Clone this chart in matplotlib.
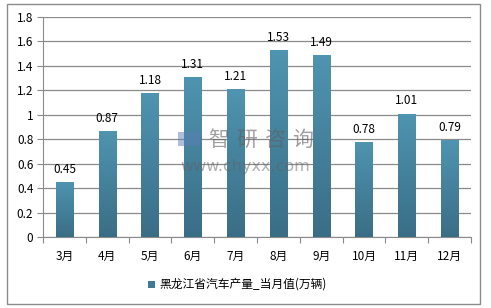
import numpy as np
import matplotlib.pyplot as plt
from matplotlib.patches import Rectangle
from matplotlib.colors import LinearSegmentedColormap

plt.rcParams['font.family'] = ['Noto Sans CJK SC', 'DejaVu Sans']

months = ['3月', '4月', '5月', '6月', '7月', '8月', '9月', '10月', '11月', '12月']
values = [0.45, 0.87, 1.18, 1.31, 1.21, 1.53, 1.49, 0.78, 1.01, 0.79]
series_name = '黑龙江省汽车产量_当月值(万辆)'

W, H = 491, 308
fig = plt.figure(figsize=(W / 100, H / 100), dpi=100)
ax = fig.add_axes([43 / W, 1 - 237 / H, 428 / W, 220 / H])

# outer frame
fig.patches.append(Rectangle((7 / W, 4 / H), 473 / W, 300 / H, transform=fig.transFigure,
                             fill=False, edgecolor='#8c8c8c', lw=1.0))

x = np.arange(len(months))
bars = ax.bar(x, values, width=0.4, color='#4a88a3', zorder=3)

# vertical gradient on each bar
cmap = LinearSegmentedColormap.from_list('bar', ['#3a6e86', '#4f94b0'])
grad = np.linspace(0, 1, 100).reshape(-1, 1)
for b in bars:
    x0, y0, w, h = b.get_x(), b.get_y(), b.get_width(), b.get_height()
    im = ax.imshow(grad, cmap=cmap, origin='lower', aspect='auto',
                   extent=[x0, x0 + w, y0, y0 + h], zorder=3)
    im.set_clip_path(b)

for xi, v in zip(x, values):
    ax.text(xi, v + 0.05, f'{v:g}', ha='center', va='bottom', fontsize=8.5, color='black')

ax.set_xlim(-0.5, len(months) - 0.5)
ax.set_ylim(0, 1.8)
ax.set_yticks(np.arange(0, 1.81, 0.2))
ax.set_yticklabels(['0', '0.2', '0.4', '0.6', '0.8', '1', '1.2', '1.4', '1.6', '1.8'])
ax.yaxis.grid(True, color='#8a8a8a', lw=0.9, zorder=0)
ax.set_axisbelow(True)

ax.set_xticks(np.arange(-0.5, len(months), 1.0))
ax.set_xticklabels([])
ax.set_xticks(x, minor=True)
ax.set_xticklabels(months, minor=True)
ax.tick_params(axis='x', which='major', length=4, color='#8a8a8a')
ax.tick_params(axis='x', which='minor', length=0, labelsize=8.5, pad=9)
ax.tick_params(axis='y', length=4, color='#8a8a8a', labelsize=8.5, pad=3)

for s in ['top', 'right']:
    ax.spines[s].set_visible(False)
for s in ['left', 'bottom']:
    ax.spines[s].set_color('#8a8a8a')

# watermark
fig.patches.append(Rectangle((178 / W, 1 - 146 / H), 22 / W, 14 / H, transform=fig.transFigure,
                             facecolor='#5b7fb5', alpha=0.5, zorder=5))
for i, ch in enumerate('智研咨询'):
    fig.text((219 + i * 28) / W, 1 - 140 / H, ch, fontsize=15, color='#606060', alpha=0.6,
             ha='center', va='center', zorder=5)
fig.text(245 / W, 1 - 167 / H, 'www.chyxx.com', fontsize=11.5, color='#606060', alpha=0.5,
         ha='center', va='center', zorder=5, family='DejaVu Sans')

# legend
fig.patches.append(Rectangle((148 / W, 1 - 288 / H), 7 / W, 7 / H, transform=fig.transFigure,
                             facecolor='#3f7a94', edgecolor='none'))
fig.text(159 / W, 1 - 284 / H, series_name, fontsize=8.5, va='center', ha='left')

fig.savefig('out.png', dpi=100)
